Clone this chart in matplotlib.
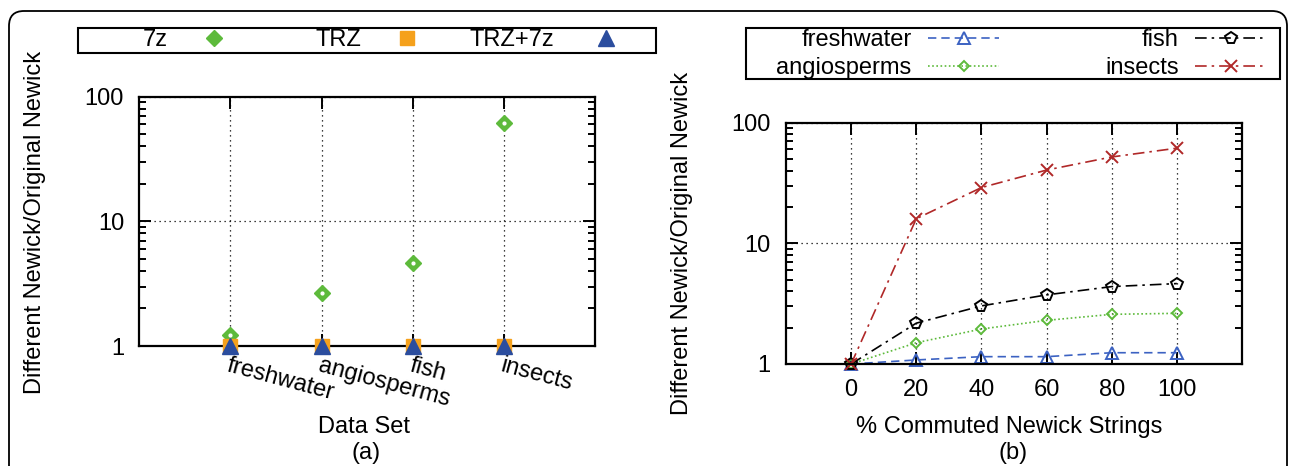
#!/usr/bin/env python3

import matplotlib
matplotlib.use("Agg")
import matplotlib.pyplot as plt
from matplotlib.patches import FancyBboxPatch, Rectangle
from matplotlib.legend_handler import HandlerTuple
from matplotlib.ticker import NullFormatter

plt.rcParams['font.family'] = ['Liberation Sans', 'DejaVu Sans']
plt.rcParams['font.size'] = 17

# (a) compression ratio per data set
datasets = ['freshwater', 'angiosperms', 'fish', 'insects']
ratio_7z = [1.23, 2.66, 4.65, 61.0]
ratio_trz = [1.0, 1.0, 1.0, 1.0]
ratio_trz7z = [1.0, 1.0, 1.0, 1.0]

# (b) ratio vs % commuted newick strings
pct = [0, 20, 40, 60, 80, 100]
freshwater = [1.0, 1.08, 1.15, 1.15, 1.24, 1.24]
angiosperms = [1.0, 1.5, 1.95, 2.3, 2.58, 2.63]
fish = [1.0, 2.18, 3.03, 3.74, 4.38, 4.64]
insects = [1.0, 16.0, 29.0, 40.5, 52.0, 61.5]

GREEN = '#5dba3b'
ORANGE = '#f5a11c'
BLUE = '#2b4d9e'
BLUE2 = '#3c62c2'
RED = '#b02828'

W, H = 1290, 466


def px(x, y):
    # pixel position (from top left) -> figure fraction
    return x / W, 1 - y / H


def style_axes(ax):
    for s in ax.spines.values():
        s.set_linewidth(1.6)
    ax.set_yscale('log')
    ax.set_ylim(1, 100)
    ax.set_yticks([1, 10, 100])
    ax.set_yticklabels(['1', '10', '100'])
    ax.yaxis.set_minor_formatter(NullFormatter())
    ax.tick_params(which='both', direction='in', top=True, right=True, width=1.4)
    ax.tick_params(which='major', length=8.5)
    ax.tick_params(which='minor', length=5)
    ax.tick_params(axis='y', which='major', pad=11)
    ax.grid(True, which='major', color='black', linestyle=(0, (1, 3)), linewidth=0.9)


def key_box(x0, y0, x1, y1):
    fig.add_artist(Rectangle(px(x0, y1), (x1 - x0) / W, (y1 - y0) / H,
                             transform=fig.transFigure, facecolor='none',
                             edgecolor='black', linewidth=1.5))


fig = plt.figure(figsize=(12.9, 4.66), dpi=100)

# ---- (a) ----
ax1 = fig.add_axes([0.108, 0.2575, 0.3533, 0.535])
style_axes(ax1)
xs = list(range(1, len(datasets) + 1))
m1, = ax1.plot(xs, ratio_7z, linestyle='none', marker='D', markersize=8,
               color=GREEN, zorder=3)
d1, = ax1.plot(xs, ratio_7z, linestyle='none', marker='o', markersize=2,
               color='white', zorder=3)
m2, = ax1.plot(xs, ratio_trz, linestyle='none', marker='s', markersize=9.5,
               color=ORANGE, zorder=4, clip_on=False)
d2, = ax1.plot(xs, ratio_trz, linestyle='none', marker='o', markersize=2.5,
               color='white', zorder=4, clip_on=False)
m3, = ax1.plot(xs, ratio_trz7z, linestyle='none', marker='^', markersize=11,
               color=BLUE, zorder=5, clip_on=False)
ax1.set_xlim(0, 5)
ax1.set_xticks(xs)
ax1.set_xticklabels(datasets, rotation=-15, ha='left', va='top',
                    rotation_mode='anchor')
ax1.tick_params(axis='x', pad=6)

# gnuplot style key: one fixed-width column per entry, text right aligned
key_handles = [(m1, d1), (m2, d2), m3]
key_labels = ['7z', 'TRZ', 'TRZ+7z']
key_marker_x = [220, 413, 606]
for hnd, lab, mx in zip(key_handles, key_labels, key_marker_x):
    fig.legend([hnd], [lab], handler_map={tuple: HandlerTuple(ndivide=None)},
               loc='center right', bbox_to_anchor=px(mx + 11.8, 40.5),
               markerfirst=False, frameon=False, borderpad=0, borderaxespad=0,
               handlelength=1.0, handletextpad=1.7)
key_box(78, 28, 656, 53)

fig.text(*px(35, 222), 'Different Newick/Original Newick',
         rotation=90, ha='center', va='center')
fig.text(*px(364, 427), 'Data Set', ha='center', va='center')
fig.text(*px(366, 453), '(a)', ha='center', va='center')

# ---- (b) ----
ax2 = fig.add_axes([0.6093, 0.2189, 0.3535, 0.5178])
style_axes(ax2)
lw = 1.2
h1, = ax2.plot(pct, freshwater, color=BLUE2, linestyle=(0, (5, 3)), linewidth=lw,
               marker='^', markersize=8, markerfacecolor='none',
               markeredgewidth=1.4, clip_on=False)
h2, = ax2.plot(pct, angiosperms, color=GREEN, linestyle=(0, (1, 1.5)), linewidth=lw,
               marker='D', markersize=5.5, markerfacecolor='none',
               markeredgewidth=1.4, clip_on=False)
h3, = ax2.plot(pct, fish, color='black', linestyle=(0, (7, 3, 1.5, 3)), linewidth=lw,
               marker='p', markersize=8.5, markerfacecolor='none',
               markeredgewidth=1.4, clip_on=False)
h4, = ax2.plot(pct, insects, color=RED, linestyle=(0, (7, 3, 1.5, 3)), linewidth=lw,
               marker='x', markersize=8, markeredgewidth=1.4, clip_on=False)
ax2.set_xlim(-20, 120)
ax2.set_xticks(pct)
ax2.tick_params(axis='x', pad=11)

# two key columns, each right aligned against its line sample
for hnds, labs, right_x in [([h1, h2], ['freshwater', 'angiosperms'], 999),
                            ([h3, h4], ['fish', 'insects'], 1266)]:
    fig.legend(hnds, labs, loc='center right', bbox_to_anchor=px(right_x, 54),
               markerfirst=False, frameon=False, borderpad=0, borderaxespad=0,
               handlelength=3.0, handletextpad=0.7, labelspacing=0.25)
key_box(746, 28, 1280, 79)

fig.text(*px(682, 243), 'Different Newick/Original Newick',
         rotation=90, ha='center', va='center')
fig.text(*px(1009, 427), '% Commuted Newick Strings', ha='center', va='center')
fig.text(*px(1013, 453), '(b)', ha='center', va='center')

# rounded outer frame, bottom edge runs off the image
frame = FancyBboxPatch((0.09, -0.5), 12.78, 5.05,
                       boxstyle='round,pad=0,rounding_size=0.15',
                       transform=fig.dpi_scale_trans, facecolor='none',
                       edgecolor='black', linewidth=1.3, clip_on=False)
fig.add_artist(frame)

fig.savefig('out.png', dpi=100)
